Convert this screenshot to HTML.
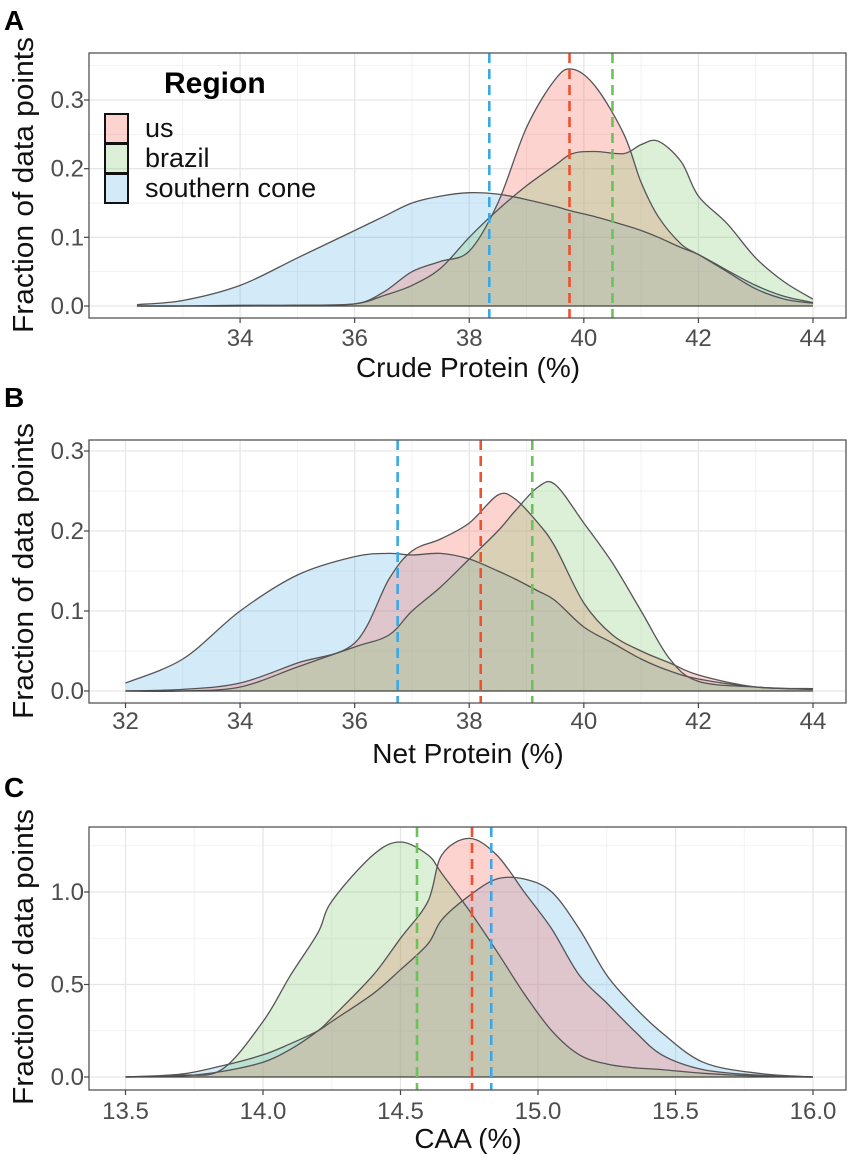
<!DOCTYPE html>
<html><head><meta charset="utf-8"><style>
html,body{margin:0;padding:0;background:#fff;}
svg{display:block;font-family:"Liberation Sans",Arial,sans-serif;}
</style></head><body>
<svg id="fig" width="851" height="1164" viewBox="0 0 851 1164"></svg>
<script>
// ---------- Panel A: Crude Protein ----------
const aX = [32.2,33,34,35,36,36.5,37,37.5,38,38.5,39,39.5,39.8,40.2,40.7,41,41.3,41.7,42,42.5,43,43.5,44];
const aSC = [0.002,0.008,0.03,0.07,0.11,0.13,0.15,0.16,0.165,0.163,0.155,0.145,0.138,0.13,0.118,0.11,0.1,0.085,0.075,0.052,0.03,0.014,0.005];
const aUS = [0,0,0.001,0.001,0.003,0.02,0.05,0.065,0.08,0.15,0.26,0.33,0.345,0.32,0.25,0.18,0.13,0.09,0.075,0.05,0.025,0.01,0.004];
const aBR = [0,0,0,0.001,0.003,0.015,0.03,0.055,0.1,0.14,0.175,0.205,0.222,0.225,0.222,0.235,0.24,0.21,0.16,0.12,0.07,0.035,0.01];
const aMeans = [38.35,39.75,40.5]; // sc, us, brazil
const aXTicks = [34,36,38,40,42,44];
const aYTicks = [0,0.1,0.2,0.3];
// ---------- Panel B: Net Protein ----------
const bX = [32,33,34,35,36,36.6,37,37.5,38,38.5,38.8,39.2,39.5,40,40.5,41,41.5,42,43,44];
const bSC = [0.01,0.04,0.1,0.145,0.168,0.172,0.17,0.172,0.165,0.15,0.14,0.125,0.113,0.08,0.06,0.04,0.025,0.015,0.005,0.002];
const bUS = [0,0.002,0.01,0.035,0.06,0.14,0.175,0.19,0.21,0.245,0.24,0.21,0.18,0.11,0.07,0.05,0.035,0.02,0.005,0.003];
const bBR = [0,0,0.005,0.03,0.055,0.07,0.1,0.13,0.165,0.2,0.225,0.255,0.258,0.21,0.16,0.1,0.04,0.012,0.005,0.002];
const bMeans = [36.75,38.2,39.1];
const bXTicks = [32,34,36,38,40,42,44];
const bYTicks = [0,0.1,0.2,0.3];
// ---------- Panel C: CAA ----------
const cX = [13.5,13.7,13.85,14.0,14.1,14.2,14.25,14.4,14.5,14.6,14.65,14.75,14.85,14.95,15.05,15.15,15.25,15.35,15.45,15.6,15.8,16.0];
const cBR = [0,0.01,0.04,0.3,0.55,0.78,0.95,1.2,1.27,1.2,1.1,0.9,0.68,0.45,0.25,0.12,0.07,0.05,0.04,0.02,0.005,0];
const cUS = [0,0.005,0.03,0.08,0.15,0.25,0.32,0.55,0.75,0.95,1.2,1.29,1.2,1.0,0.8,0.55,0.4,0.25,0.12,0.04,0.01,0];
const cSC = [0,0.015,0.06,0.12,0.18,0.25,0.3,0.45,0.58,0.72,0.85,0.98,1.07,1.07,1.0,0.8,0.55,0.38,0.24,0.08,0.02,0];
const cMeans = [14.83,14.76,14.56];
const cXTicks = [13.5,14.0,14.5,15.0,15.5,16.0];
const cYTicks = [0,0.5,1.0];

const NS = "http://www.w3.org/2000/svg";
const svg = document.getElementById('fig');
function el(tag, attrs, parent){const e=document.createElementNS(NS,tag);for(const k in attrs)e.setAttribute(k,attrs[k]);(parent||svg).appendChild(e);return e;}

const FILL = {sc:"rgba(97,180,235,0.28)", us:"rgba(248,118,109,0.32)", br:"rgba(124,200,110,0.28)"};
const DASH = {sc:"#3aa8e6", us:"#f0502e", br:"#6cc25a"};

function smoothPath(pts){
  let d="M"+pts[0][0]+","+pts[0][1];
  for(let i=0;i<pts.length-1;i++){
    const p0=pts[i-1]||pts[i],p1=pts[i],p2=pts[i+1],p3=pts[i+2]||p2;
    const c1=[p1[0]+(p2[0]-p0[0])/6,p1[1]+(p2[1]-p0[1])/6];
    const c2=[p2[0]-(p3[0]-p1[0])/6,p2[1]-(p3[1]-p1[1])/6];
    d+=" C"+c1[0].toFixed(1)+","+c1[1].toFixed(1)+" "+c2[0].toFixed(1)+","+c2[1].toFixed(1)+" "+p2[0].toFixed(1)+","+p2[1].toFixed(1);
  }
  return d;
}

function panel(cfg){
  const g=el('g',{});
  
  
  const L=89,R=846,T=cfg.top,B=cfg.bottom;
  const xs=v=>cfg.x0px+(v-cfg.x0)*(cfg.x1px-cfg.x0px)/(cfg.x1-cfg.x0);
  const ys=v=>cfg.y0px-(v)*(cfg.y0px-cfg.y1px)/cfg.y1;
  el('rect',{x:L,y:T,width:R-L,height:B-T,fill:"#fff"},g);
  // gridlines
  const xt=cfg.xTicks, yt=cfg.yTicks;
  const dx=xt[1]-xt[0], dy=yt[1]-yt[0];
  for(let v=xt[0]-dx/2; v<=xt[xt.length-1]+dx/2+1e-9; v+=dx){const p=xs(v);if(p>L&&p<R){const ln=el('line',{x1:p,x2:p,y1:T,y2:B,stroke:"#f2f2f2","stroke-width":1},g);}}
  for(let v=yt[0]+dy/2; v<=yt[yt.length-1]+dy/2+1e-9; v+=dy){const p=ys(v);if(p>T&&p<B){const ln=el('line',{x1:L,x2:R,y1:p,y2:p,stroke:"#f2f2f2","stroke-width":1},g);}}
  xt.forEach(v=>{const p=xs(v);const ln=el('line',{x1:p,x2:p,y1:T,y2:B,stroke:"#e6e6e6","stroke-width":1.3},g);});
  yt.forEach(v=>{const p=ys(v);const ln=el('line',{x1:L,x2:R,y1:p,y2:p,stroke:"#e6e6e6","stroke-width":1.3},g);});
  // densities
  cfg.series.forEach(s=>{
    const pts=cfg.xv.map((x,i)=>[xs(x),ys(s.v[i])]);
    const d=smoothPath(pts)+" L"+xs(cfg.xv[cfg.xv.length-1])+","+ys(0)+" L"+xs(cfg.xv[0])+","+ys(0)+" Z";
    const a=el('path',{d:d,fill:FILL[s.k],stroke:"none"},g);
    
    
  });
  cfg.series.forEach(s=>{
    const pts=cfg.xv.map((x,i)=>[xs(x),ys(s.v[i])]);
    const l=el('path',{d:smoothPath(pts),fill:"none",stroke:"#555","stroke-width":1.3},g);
    
    
  });
  el('line',{x1:xs(cfg.xv[0]),x2:xs(cfg.xv[cfg.xv.length-1]),y1:ys(0),y2:ys(0),stroke:"#444","stroke-width":1.2},g);
  // mean lines
  cfg.means.forEach((m,i)=>{
    const k=cfg.meanKeys[i];
    const ln=el('line',{x1:xs(m),x2:xs(m),y1:T,y2:B,stroke:DASH[k],"stroke-width":2.6,"stroke-dasharray":"10,6"},g);
    
    
  });
  const box=el('rect',{x:L,y:T,width:R-L,height:B-T,fill:"none",stroke:"#555","stroke-width":1.3},g);
  
  
  // ticks
  xt.forEach(v=>{const p=xs(v);
    el('line',{x1:p,x2:p,y1:B,y2:B+5,stroke:"#444","stroke-width":1.2},g);
    const t=el('text',{x:p,y:cfg.xTickY,"text-anchor":"middle","font-size":24,fill:"#4d4d4d"},g);
    t.textContent=cfg.xFmt(v);
    
    
  });
  yt.forEach(v=>{const p=ys(v);
    el('line',{x1:L-5,x2:L,y1:p,y2:p,stroke:"#444","stroke-width":1.2},g);
    const t=el('text',{x:84,y:p+8,"text-anchor":"end","font-size":24,fill:"#4d4d4d"},g);
    t.textContent=v.toFixed(1);
    
    
  });
  const xt2=el('text',{x:468,y:cfg.xTitleY,"text-anchor":"middle","font-size":28,fill:"#111"},g);
  xt2.textContent=cfg.xTitle;
  
  
  const yc=cfg.yTitleC;
  const yt2=el('text',{x:0,y:0,"text-anchor":"middle","font-size":29,fill:"#111",transform:"translate(33,"+yc+") rotate(-90)",textLength:296,lengthAdjust:"spacingAndGlyphs"},g);
  yt2.textContent="Fraction of data points";
  
  
  const pl=el('text',{x:4,y:cfg.labelY,"font-size":28,"font-weight":"bold",fill:"#000"},g);
  pl.textContent=cfg.letter;
  
  
}

panel({name:'panel-a',letter:'A',labelY:30,top:53,bottom:318,x0:32,x1:44,x0px:125.5,x1px:813,y1:0.3,y0px:306,y1px:100,
  xv:aX,series:[{k:'sc',label:'southern-cone',v:aSC},{k:'us',label:'us',v:aUS},{k:'br',label:'brazil',v:aBR}],
  means:aMeans,meanKeys:['sc','us','br'],xTicks:aXTicks,yTicks:aYTicks,xFmt:v=>String(v),
  xTickY:346,xTitle:"Crude Protein (%)",xTitleY:377,yTitleC:185});
panel({name:'panel-b',letter:'B',labelY:407,top:440,bottom:703,x0:32,x1:44,x0px:125.5,x1px:813,y1:0.3,y0px:691,y1px:451,
  xv:bX,series:[{k:'sc',label:'southern-cone',v:bSC},{k:'us',label:'us',v:bUS},{k:'br',label:'brazil',v:bBR}],
  means:bMeans,meanKeys:['sc','us','br'],xTicks:bXTicks,yTicks:bYTicks,xFmt:v=>String(v),
  xTickY:729,xTitle:"Net Protein (%)",xTitleY:763,yTitleC:571});
panel({name:'panel-c',letter:'C',labelY:797,top:827,bottom:1090,x0:13.5,x1:16,x0px:125.5,x1px:813,y1:1.0,y0px:1077,y1px:892,
  xv:cX,series:[{k:'sc',label:'southern-cone',v:cSC},{k:'us',label:'us',v:cUS},{k:'br',label:'brazil',v:cBR}],
  means:cMeans,meanKeys:['sc','us','br'],xTicks:cXTicks,yTicks:cYTicks,xFmt:v=>v.toFixed(1),
  xTickY:1119,xTitle:"CAA (%)",xTitleY:1148,yTitleC:957});

// Legend (panel A)
const lg=el('g',{});


const lt=el('text',{x:164,y:93,"font-size":30,"font-weight":"bold",fill:"#000"},lg);
lt.textContent="Region";


const legendItems=[['us','rgba(248,118,109,0.32)'],['brazil','rgba(124,200,110,0.28)'],['southern cone','rgba(97,180,235,0.28)']];
legendItems.forEach((it,i)=>{
  const y=114+i*30;
  const r=el('rect',{x:105,y:y,width:23,height:29,fill:it[1],stroke:"#111","stroke-width":2},lg);
  
  
  const t=el('text',{x:145,y:y+23,"font-size":27,fill:"#111"},lg);
  t.textContent=it[0];
  
  
});
</script>
</body></html>
